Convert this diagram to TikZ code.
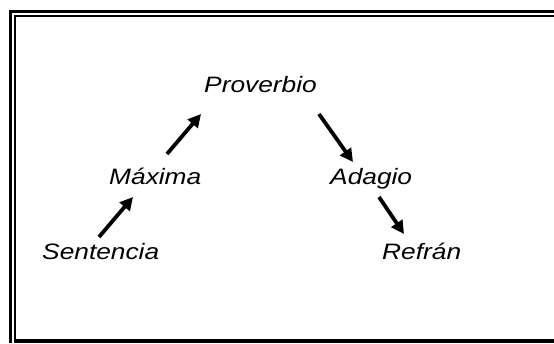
\documentclass[tikz,border=0pt]{standalone}
\usepackage{fontspec}
\setmainfont{Liberation Sans}[FakeStretch=1.18]
\usetikzlibrary{arrows.meta}
\begin{document}
\begin{tikzpicture}[x=1pt,y=1pt,
  lbl/.style={inner sep=0pt, anchor=base west, font=\fontsize{22.3}{26}\selectfont\itshape},
  arr/.style={line width=3.8pt, -{Triangle[length=13pt,width=13pt]}},
  framer/.style={line width=3pt, line cap=butt}]
\useasboundingbox (0,0) rectangle (554,343);
\fill[white] (0,0) rectangle (554,343);
% frame
\draw[framer] (10.2,0) -- (10.2,331.2) -- (554,331.2);
\draw[line width=2.4pt] (14.8,2) -- (14.8,327.2) -- (554,327.2);
\draw[line width=3.6pt] (13.6,2) -- (554,2);
% labels
\node[lbl] (prov) at (204,250) {Proverbio};
\node[lbl] (max)  at (109,158) {Máxima};
\node[lbl] (adag) at (330,158) {Adagio};
\node[lbl] (sent) at (42,84)   {Sentencia};
\node[lbl] (refr) at (382,84)  {Refrán};
% arrows
\draw[arr] ([shift={(57,22)}]sent.base west) -- ([shift={(24,-12)}]max.base west);
\draw[arr] ([shift={(58,31)}]max.base west) -- ([shift={(-3,-21)}]prov.base west);
\draw[arr] ([shift={(115,-21)}]prov.base west) -- ([shift={(23,23)}]adag.base west);
\draw[arr] ([shift={(49,-12)}]adag.base west) -- ([shift={(22,25)}]refr.base west);
\end{tikzpicture}
\end{document}
